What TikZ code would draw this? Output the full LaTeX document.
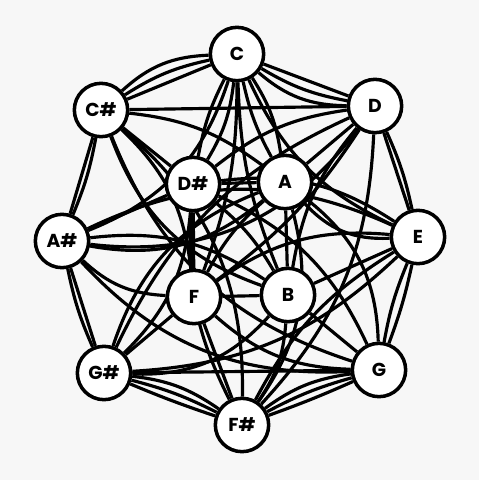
\documentclass[tikz,border=0pt]{standalone}
\usepackage{fontspec}
\setsansfont{Poppins}
\usetikzlibrary{backgrounds}
\definecolor{cbg}{HTML}{F7F7F7}
\tikzset{
  every picture/.style={font=\sffamily\bfseries},
  nd/.style={circle, draw=black, fill=white, line width=3pt, minimum size=16mm, inner sep=0pt,
    font=\sffamily\bfseries\fontsize{16}{16}\selectfont},
  link/.style={black, line width=2.7pt},
}
\begin{document}
\begin{tikzpicture}[x=0.3mm, y=-0.3mm]
  \useasboundingbox (0,0) rectangle (479,480);
  \foreach \n/\t/\x/\y in {C/C/237/54, D/D/375/106, E/E/418/237, G/G/379/370, Fs/F\#/242/425,
      Gs/G\#/104/373, As/A\#/62/241, Cs/C\#/101/110, Ds/D\#/193/184, A/A/285/182, B/B/288/295, F/F/194/297}
    \node[nd] (\n) at (\x,\y) {\t};
  \begin{scope}[on background layer]
    \fill[cbg] (0,0) rectangle (479,480);
    % ring
    \foreach \a/\b/\t in {C/Cs/-20, C/Cs/-10, C/Cs/0, C/D/-20, C/D/-10, C/D/0, D/E/0, D/E/6,
        E/G/-6, E/G/4, G/Fs/-14, G/Fs/-6, G/Fs/2, Fs/Gs/-14, Fs/Gs/-6, Fs/Gs/2,
        Gs/As/0, Gs/As/6, As/Cs/0, As/Cs/-6}
      \draw[link] (\a) to[bend left=\t] (\b);
    % chords
    \foreach \a/\b/\t in {Cs/D/0, Gs/G/0, C/Ds/12, C/Ds/-8, C/A/12, C/A/-8, C/F/10, C/B/-10,
        C/E/-20, C/As/25, D/As/30,
        Cs/Ds/0, Cs/A/15, Cs/F/20, Cs/B/-25, Cs/Fs/25, Cs/G/-25,
        D/A/0, D/Ds/-15, D/F/10, D/B/-15, D/Gs/-20, D/Fs/20,
        E/A/25, E/B/0, E/Ds/-20, E/F/-20, E/As/-25, E/Gs/20,
        G/B/0, G/A/-25, G/F/20, G/Ds/-20, G/As/25,
        Fs/F/0, Fs/B/-15, Fs/Ds/15, Fs/A/-25, Fs/E/15,
        Gs/F/0, Gs/B/-25, Gs/Ds/-20, Gs/A/25,
        As/Ds/0, As/F/-20, As/B/20, As/A/-25,
        Ds/A/0, F/B/0, Ds/F/0, A/B/0, Ds/B/10, A/F/-10}
      \draw[link] (\a) to[bend left=\t] (\b);
  \end{scope}
\end{tikzpicture}
\end{document}
